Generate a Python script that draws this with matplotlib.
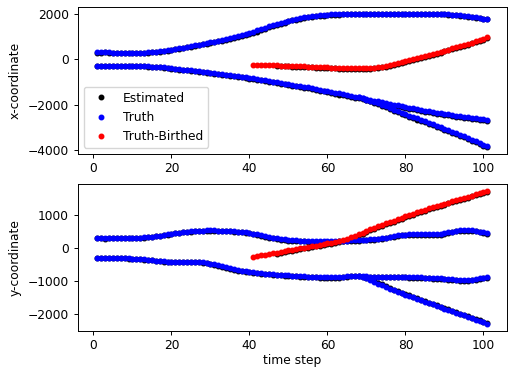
import matplotlib
matplotlib.use('Agg')
import matplotlib.pyplot as plt

plt.rcParams['font.size'] = 8.8
plt.rcParams['axes.linewidth'] = 0.7
plt.rcParams['xtick.major.size'] = 3.1
plt.rcParams['ytick.major.size'] = 3.1
plt.rcParams['xtick.major.width'] = 0.7
plt.rcParams['ytick.major.width'] = 0.7
plt.rcParams['xtick.major.pad'] = 3

steps = list(range(1, 102))

# x-coordinate, truth
t1_x = [300, 300, 300, 298, 296, 293, 290, 288, 286, 285,
        285, 285, 292, 300, 312, 328, 348, 372, 398, 425,
        452, 482, 512, 542, 574, 606, 638, 672, 706, 740,
        776, 812, 850, 888, 928, 970, 1012, 1056, 1102, 1150,
        1208, 1266, 1324, 1382, 1440, 1494, 1548, 1600, 1650, 1700,
        1740, 1776, 1810, 1842, 1870, 1893, 1914, 1932, 1948, 1960,
        1970, 1978, 1985, 1990, 1995, 1998, 2000, 2002, 2003, 2003,
        2002, 2000, 1998, 1996, 1995, 1996, 1998, 2000, 2002, 2003,
        2004, 2004, 2003, 2002, 2000, 1998, 1996, 1994, 1990, 1980,
        1968, 1955, 1940, 1925, 1905, 1885, 1862, 1840, 1815, 1790, 1765]
t2_x = [-300, -300, -300, -300, -300, -300, -302, -302, -304, -305,
        -306, -308, -310, -314, -320, -330, -345, -362, -380, -400,
        -418, -436, -455, -474, -493, -512, -532, -552, -572, -592,
        -613, -634, -656, -678, -700, -722, -743, -765, -787, -810,
        -837, -864, -892, -920, -950, -980, -1010, -1040, -1070, -1100,
        -1128, -1156, -1184, -1212, -1240, -1272, -1306, -1340, -1375, -1410,
        -1442, -1474, -1506, -1538, -1570, -1604, -1638, -1672, -1706, -1740,
        -1777, -1814, -1851, -1888, -1925, -1958, -1992, -2025, -2058, -2090,
        -2124, -2158, -2192, -2226, -2260, -2288, -2316, -2344, -2372, -2400,
        -2426, -2452, -2478, -2504, -2530, -2552, -2574, -2596, -2618, -2640, -2660]
t3_start = 68
t3_x = [-1680, -1725, -1770, -1825, -1880, -1945, -2010, -2075, -2140, -2210,
        -2280, -2345, -2410, -2475, -2540, -2605, -2670, -2735, -2800, -2865,
        -2930, -2995, -3060, -3125, -3190, -3255, -3320, -3390, -3460, -3535,
        -3610, -3685, -3760, -3835]
birth_start = 41
birth_x = [-250, -252, -255, -258, -262, -266, -271, -276, -282, -288,
           -294, -300, -307, -314, -321, -328, -336, -344, -352, -360,
           -368, -376, -384, -392, -398, -403, -406, -406, -403, -398,
           -389, -376, -358, -334, -305, -265, -220, -170, -120, -70,
           -25, 20, 62, 105, 150, 195, 240, 285, 332, 380,
           428, 478, 528, 578, 630, 683, 736, 790, 845, 900, 960]

# x-coordinate, estimated
e1_x = [290, 295, 300, 292, 290, 286, 284, 282, 280, 280,
        278, 280, 285, 292, 302, 316, 335, 358, 384, 410,
        438, 466, 496, 526, 556, 588, 620, 652, 684, 716,
        750, 786, 822, 860, 898, 938, 978, 1020, 1064, 1110,
        1162, 1218, 1276, 1336, 1396, 1452, 1508, 1560, 1612, 1662,
        1706, 1746, 1782, 1814, 1842, 1866, 1888, 1906, 1922, 1936,
        1948, 1958, 1966, 1972, 1978, 1982, 1986, 1988, 1990, 1990,
        1990, 1988, 1986, 1984, 1984, 1985, 1987, 1990, 1992, 1994,
        1995, 1995, 1994, 1992, 1990, 1988, 1986, 1982, 1978, 1970,
        1958, 1945, 1930, 1914, 1895, 1874, 1852, 1828, 1804, 1778, 1752]
e2_x = [-305, -300, -295, -305, -300, -305, -300, -305, -308, -310,
        -312, -315, -318, -322, -330, -342, -356, -374, -394, -414,
        -434, -452, -472, -492, -512, -532, -552, -572, -594, -616,
        -638, -660, -682, -704, -728, -752, -776, -800, -824, -848,
        -874, -902, -930, -958, -988, -1018, -1050, -1080, -1110, -1140,
        -1168, -1196, -1224, -1252, -1282, -1314, -1348, -1382, -1418, -1454,
        -1488, -1520, -1552, -1584, -1616, -1650, -1684, -1718, -1752, -1788,
        -1826, -1864, -1900, -1936, -1972, -2006, -2040, -2074, -2106, -2138,
        -2172, -2206, -2240, -2274, -2306, -2334, -2362, -2390, -2418, -2446,
        -2472, -2498, -2524, -2550, -2574, -2596, -2618, -2640, -2660, -2680, -2700]
e3_start = 70
e3_x = [-1800, -1850, -1910, -1975, -2045, -2115, -2185, -2255, -2325, -2390,
        -2455, -2520, -2585, -2650, -2715, -2780, -2845, -2910, -2975, -3040,
        -3105, -3170, -3235, -3300, -3365, -3435, -3505, -3580, -3655, -3730,
        -3800, -3870]
eb_start = 47
eb_x = [-300, -305, -310, -316,
        -322, -328, -335, -342, -349, -356, -364, -372, -380, -388,
        -396, -404, -412, -420, -426, -430, -432, -432, -430, -424,
        -415, -402, -384, -360, -331, -294, -250, -202, -152, -104,
        -58, -14, 30, 72, 116, 160, 205, 250, 296, 344,
        392, 440, 490, 540, 592, 645, 698, 752, 806, 862, 920]

# y-coordinate, truth
t1_y = [300, 300, 300, 300, 302, 303, 305, 308, 310, 313,
        317, 322, 330, 340, 352, 365, 380, 400, 420, 440,
        458, 474, 488, 500, 510, 518, 526, 532, 536, 538,
        536, 532, 528, 522, 515, 508, 500, 490, 478, 462,
        440, 415, 390, 365, 340, 315, 295, 278, 264, 252,
        242, 233, 226, 220, 215, 210, 206, 203, 201, 200,
        202, 206, 212, 220, 228, 236, 242, 248, 252, 258,
        266, 276, 290, 305, 322, 345, 368, 388, 402, 410,
        414, 416, 418, 420, 420, 419, 418, 420, 432, 450,
        475, 502, 525, 542, 550, 548, 538, 522, 500, 476, 450]
t2_y = [-300, -300, -300, -302, -304, -306, -308, -312, -316, -320,
        -326, -334, -344, -356, -370, -384, -398, -410, -418, -424,
        -426, -426, -424, -420, -418, -420, -426, -436, -452, -474,
        -500, -530, -560, -590, -620, -648, -672, -694, -712, -728,
        -742, -756, -768, -780, -790, -800, -810, -818, -826, -834,
        -842, -850, -858, -865, -872, -878, -884, -888, -892, -894,
        -895, -893, -885, -872, -860, -852, -850, -852, -858, -866,
        -872, -876, -878, -878, -876, -875, -875, -876, -878, -880,
        -884, -888, -892, -897, -902, -908, -915, -922, -930, -938,
        -946, -955, -966, -978, -985, -980, -965, -945, -920, -900, -885]
t3_y = [-850, -880, -915, -965, -1025, -1085, -1140, -1195, -1245, -1292,
        -1337, -1380, -1422, -1465, -1508, -1552, -1596, -1640, -1682, -1724,
        -1766, -1808, -1850, -1892, -1934, -1976, -2018, -2060, -2102, -2144,
        -2186, -2228, -2272, -2330]
birth_y = [-260, -240, -220, -200, -180, -160, -140, -118, -96, -74,
           -52, -30, -8, 12, 32, 54, 76, 98, 120, 142,
           164, 186, 210, 245, 285, 330, 376, 424, 472, 520,
           568, 614, 660, 705, 750, 795, 840, 883, 925, 966,
           1007, 1048, 1088, 1128, 1168, 1208, 1244, 1280, 1316, 1352,
           1388, 1424, 1460, 1496, 1532, 1568, 1604, 1640, 1676, 1712, 1750]

# y-coordinate, estimated
e1_y = [295, 300, 290, 295, 298, 300, 300, 302, 305, 308,
        310, 315, 322, 332, 344, 356, 370, 388, 408, 428,
        446, 462, 476, 488, 498, 506, 514, 520, 524, 526,
        526, 524, 520, 514, 506, 498, 490, 480, 468, 452,
        430, 404, 376, 348, 320, 294, 272, 254, 240, 228,
        218, 210, 204, 200, 196, 192, 190, 188, 187, 188,
        190, 194, 200, 206, 212, 218, 224, 230, 236, 242,
        250, 260, 272, 288, 306, 326, 348, 368, 384, 394,
        398, 400, 400, 398, 394, 392, 392, 398, 412, 432,
        456, 482, 506, 524, 534, 534, 526, 510, 490, 466, 440]
e2_y = [-305, -302, -300, -305, -310, -312, -314, -318, -322, -326,
        -332, -340, -350, -362, -376, -390, -404, -416, -425, -430,
        -432, -432, -430, -428, -426, -428, -434, -446, -464, -488,
        -514, -544, -574, -604, -634, -662, -686, -708, -726, -742,
        -756, -770, -782, -794, -804, -814, -824, -832, -840, -848,
        -856, -864, -872, -879, -886, -892, -898, -902, -906, -908,
        -909, -907, -900, -888, -876, -868, -866, -868, -874, -882,
        -888, -892, -894, -894, -892, -891, -891, -892, -894, -896,
        -900, -904, -908, -913, -918, -924, -931, -938, -946, -954,
        -962, -971, -982, -994, -1001, -996, -981, -961, -936, -916, -901]
e3_y = [-900, -940, -995, -1055, -1112, -1168, -1220, -1270, -1318, -1362,
        -1405, -1448, -1490, -1534, -1578, -1622, -1664, -1706, -1748, -1790,
        -1832, -1874, -1916, -1958, -2000, -2042, -2084, -2126, -2168, -2210,
        -2254, -2300]
eb_y = [-170, -148, -124, -100,
        -78, -56, -34, -12, 8, 28, 50, 72, 94, 116,
        138, 160, 182, 212, 250, 294, 340, 388, 436, 486,
        536, 584, 630, 676, 720, 764, 808, 852, 896, 938,
        980, 1020, 1060, 1100, 1140, 1180, 1218, 1254, 1290, 1326,
        1362, 1398, 1434, 1470, 1506, 1542, 1578, 1614, 1650, 1686, 1722]


def span(start, vals):
    return steps[start - 1:start - 1 + len(vals)]


fig, (ax1, ax2) = plt.subplots(2, 1, figsize=(5.12, 3.68), dpi=100)
fig.subplots_adjust(left=0.152, right=0.99, top=0.981, bottom=0.1005, hspace=0.205)

ms = 6.5
panels = [
    (ax1, [e1_x, e2_x], e3_x, eb_x, [t1_x, t2_x], t3_x, birth_x),
    (ax2, [e1_y, e2_y], e3_y, eb_y, [t1_y, t2_y], t3_y, birth_y),
]
for ax, est, est3, estb, tru, tru3, birth in panels:
    for i, e in enumerate(est):
        ax.plot(steps, e, 'k.', ms=ms, label='Estimated' if i == 0 else None)
    ax.plot(span(e3_start, est3), est3, 'k.', ms=ms)
    ax.plot(span(eb_start, estb), estb, 'k.', ms=ms)
    for i, tr in enumerate(tru):
        ax.plot(steps, tr, 'b.', ms=ms, label='Truth' if i == 0 else None)
    ax.plot(span(t3_start, tru3), tru3, 'b.', ms=ms)
    ax.plot(span(birth_start, birth), birth, 'r.', ms=ms, label='Truth-Birthed')

ax1.set_ylabel('x-coordinate')
ax2.set_ylabel('y-coordinate')
ax2.set_xlabel('time step', labelpad=1)
ax1.legend(loc='lower left')

fig.savefig('out.png', dpi=100)
